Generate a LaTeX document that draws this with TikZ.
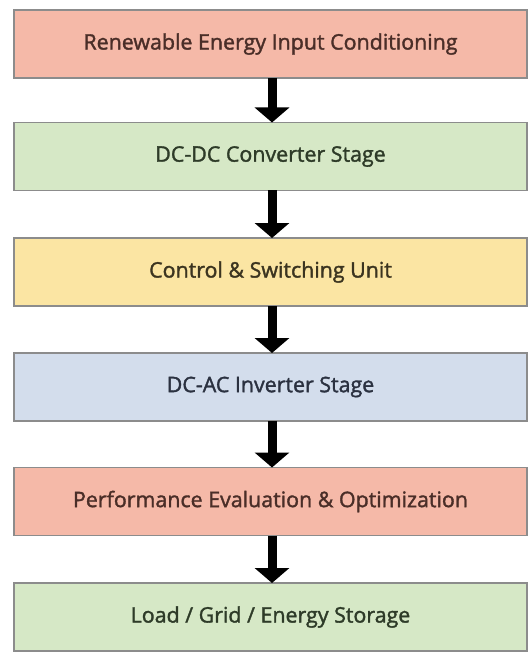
\documentclass[tikz,border=0pt]{standalone}
\usepackage{fontspec}
\newfontfamily\boxfont{Open Sans}[FakeBold=1.6]
\usetikzlibrary{arrows.meta}
\definecolor{salmon}{HTML}{F5B9A8}
\definecolor{lgreen}{HTML}{D6E8C6}
\definecolor{lyellow}{HTML}{FBE5A3}
\definecolor{lblue}{HTML}{D3DDEC}
\definecolor{edgegray}{HTML}{8C8C8C}
\definecolor{txtred}{HTML}{4A2E28}
\definecolor{txtgreen}{HTML}{2E3B28}
\definecolor{txtyellow}{HTML}{3B3420}
\definecolor{txtblue}{HTML}{2B3140}
\tikzset{
  stagebox/.style={draw=edgegray, line width=1.2pt, minimum width=513pt, minimum height=68pt,
    inner sep=0pt, outer sep=0pt, font=\boxfont\fontsize{21.4}{25}\selectfont},
  flowarrow/.style={line width=9pt, -{Triangle[width=34pt,length=15pt]}, black}
}
\begin{document}
\begin{tikzpicture}[x=1pt,y=1pt]
\useasboundingbox[fill=white] (0,0) rectangle (529,-652);
\node[stagebox, fill=salmon, text=txtred] (n1) at (270.5,-44) {Renewable Energy Input Conditioning};
\node[stagebox, fill=lgreen, text=txtgreen] (n2) at (270.5,-156.5) {DC-DC Converter Stage};
\node[stagebox, fill=lyellow, text=txtyellow] (n3) at (270.5,-272) {Control \& Switching Unit};
\node[stagebox, fill=lblue, text=txtblue] (n4) at (270.5,-387) {DC-AC Inverter Stage};
\node[stagebox, fill=salmon, text=txtred] (n5) at (270.5,-501.5) {Performance Evaluation \& Optimization};
\node[stagebox, fill=lgreen, text=txtgreen] (n6) at (270.5,-617) {Load / Grid / Energy Storage};
\draw[flowarrow] ([xshift=1.5pt]n1.south) -- ([xshift=1.5pt]n2.north);
\draw[flowarrow] ([xshift=1.5pt]n2.south) -- ([xshift=1.5pt]n3.north);
\draw[flowarrow] ([xshift=1.5pt]n3.south) -- ([xshift=1.5pt]n4.north);
\draw[flowarrow] ([xshift=1.5pt]n4.south) -- ([xshift=1.5pt]n5.north);
\draw[flowarrow] ([xshift=1.5pt]n5.south) -- ([xshift=1.5pt]n6.north);
\end{tikzpicture}
\end{document}
